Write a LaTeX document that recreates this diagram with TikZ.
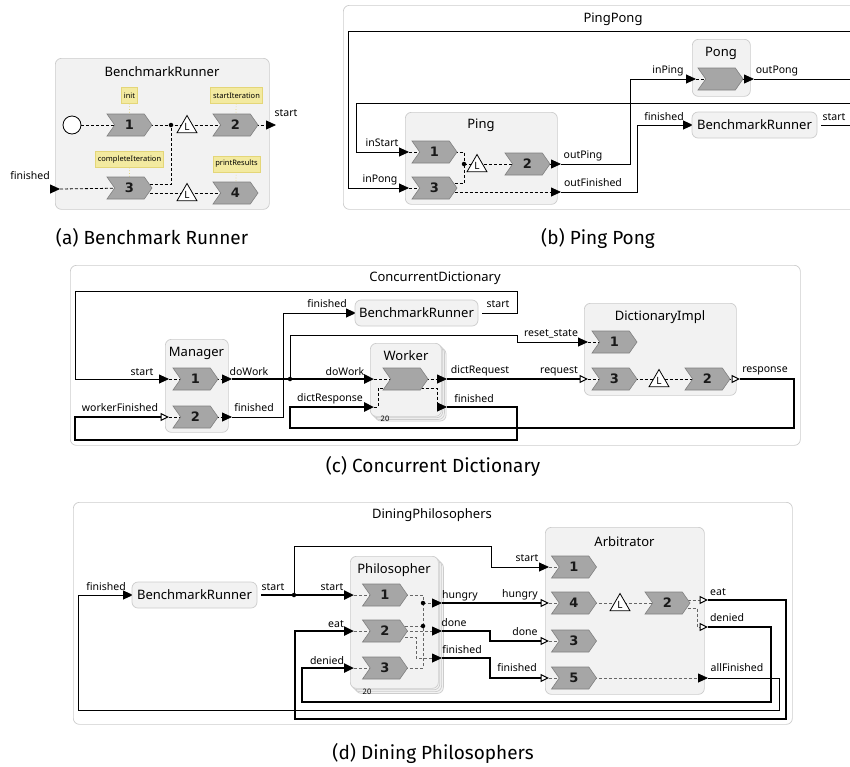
\documentclass[tikz,border=0pt]{standalone}
\usepackage{fontspec}
\setmainfont{Noto Sans}
\newfontfamily\capfont{Fira Sans}
\newfontfamily\numfont{DejaVu Sans}
\usetikzlibrary{shapes.symbols,shapes.geometric,arrows.meta}

\pgfdeclarelayer{bg}
\pgfdeclarelayer{wires}
\pgfsetlayers{bg,wires,main}

\definecolor{noteFill}{RGB}{243,234,160}
\definecolor{noteLine}{RGB}{228,214,120}

\tikzset{
  Tri/.tip={Triangle[length=10pt,width=9pt,color=black]},
  OTri/.tip={Triangle[open,length=8.5pt,width=8pt,color=black,fill=white,line width=1pt]},
  panel/.style={draw=black!20, fill=white, rounded corners=6pt, line width=0.7pt, anchor=north west},
  actor/.style={draw=black!20, fill=black!5, rounded corners=6pt, line width=0.7pt},
  head/.style={font=\fontsize{13}{14}\selectfont, inner sep=0pt},
  act/.style={signal, signal to=east, signal from=west, signal pointer angle=110,
    draw=black!50, fill=black!35, line width=0.6pt, minimum width=45pt, text=black!90,
    minimum height=22pt, inner sep=0pt, font=\numfont\bfseries\fontsize{13}{13}\selectfont},
  lock/.style={regular polygon, regular polygon sides=3, draw, fill=white,
    line width=0.8pt, minimum size=23pt, inner sep=0pt, font=\fontsize{10}{10}\selectfont},
  junc/.style={circle, fill, inner sep=0pt, minimum size=4.5pt},
  note/.style={draw=noteLine, fill=noteFill, font=\fontsize{7.5}{7.5}\selectfont,
    inner sep=2.5pt, minimum height=16pt},
  tether/.style={noteLine, line width=0.7pt, dotted},
  lbl/.style={font=\fontsize{10.5}{10.5}\selectfont, inner sep=0pt},
  tiny/.style={font=\fontsize{7.5}{7.5}\selectfont, inner sep=0pt},
  wire/.style={line width=0.9pt},
  bus/.style={line width=2.4pt},
  flow/.style={line width=0.8pt, dash pattern=on 3pt off 2pt},
  gflow/.style={flow, black!60},
  capt/.style={font=\capfont\fontsize{19}{19}\selectfont, inner sep=0pt},
}

\begin{document}
\begin{tikzpicture}[x=1pt, y=-1pt]
\clip (0,0) rectangle (850,766);

% containers
\begin{pgfonlayer}{bg}
\node[actor, anchor=north west, minimum width=214pt, minimum height=151pt] (brA) at (55,58) {};
\node[panel, minimum width=530pt, minimum height=204pt] (ppB) at (343,5) {};
\node[actor, anchor=north west, minimum width=152pt, minimum height=92pt] (ping) at (405,112) {};
\node[actor, anchor=north west, minimum width=58pt, minimum height=57pt] (pong) at (692,39) {};
\node[panel, minimum width=730pt, minimum height=180pt] (cdC) at (70,265) {};
\node[actor, anchor=north west, minimum width=63pt, minimum height=93pt] (manager) at (165,339) {};
\foreach \d in {5.1,3.4,1.7}
  \draw[actor] (370+\d,343+\d) rectangle +(71,73);
\node[actor, anchor=north west, minimum width=71pt, minimum height=73pt] (worker) at (370,343) {};
\node[actor, anchor=north west, minimum width=152pt, minimum height=92pt] (dict) at (584,303) {};
\node[panel, minimum width=719pt, minimum height=222pt] (dpD) at (73,502) {};
\foreach \d in {5.4,3.6,1.8}
  \draw[actor] (350+\d,556+\d) rectangle +(88,132);
\node[actor, anchor=north west, minimum width=88pt, minimum height=132pt] (philo) at (350,556) {};
\node[actor, anchor=north west, minimum width=159pt, minimum height=167pt] (arbi) at (545,527) {};
\end{pgfonlayer}

% (a) Benchmark Runner
\node[head] (brAhead) at (162,72) {BenchmarkRunner};
\node[circle, draw, fill=white, line width=0.8pt, minimum size=18pt, inner sep=0pt] (initA) at (72,125) {};
\node[act] (a1) at (129.5,125) {1};
\node[act] (a2) at (235.5,125) {2};
\node[act] (a3) at (129.5,188) {3};
\node[act] (a4) at (235.5,193) {4};
\node[note] (nInit) at (129.5,95.5) {init};
\node[note] (nStartIt) at (236.5,95.5) {startIteration};
\node[note] (nComplete) at (129.5,159.5) {completeIteration};
\node[note] (nPrint) at (236.5,164) {printResults};
\node[junc] (jA) at (171,125) {};
\node[lock] (lkA1) at (187,127) {L};
\node[lock] (lkA2) at (187,195) {L};
\coordinate (pStartA) at (276,125);
\coordinate (eFinA) at (50,189);
\coordinate (pFinA) at (60,189);
\node[lbl] (lStartA) at (286,113) {start};
\node[lbl] (lFinA) at (30,176) {finished};

% (b) Ping Pong
\node[head] (ppBhead) at (613,19) {PingPong};
\node[head] (pingHead) at (481,125) {Ping};
\node[head] (pongHead) at (721,53) {Pong};
\node[actor, head, minimum width=125pt, minimum height=26pt] (brB) at (754.5,125) {BenchmarkRunner};
\node[act] (p1) at (434.5,152) {1};
\node[act] (p3) at (434.5,188) {3};
\node[act] (p2) at (527.5,164) {2};
\node[act] (pg) at (720.5,79) {};
\node[junc] (jB) at (464,164) {};
\node[lock] (lkB) at (477,166) {L};
\coordinate (pInStartB) at (409,152);
\coordinate (pInPongB) at (409,188);
\coordinate (pOutPingB) at (561,164);
\coordinate (pOutFinB) at (561,192);
\coordinate (pInPingB) at (696,79);
\coordinate (pOutPongB) at (754,79);
\coordinate (pFinB) at (693,125);
\coordinate (pStartB) at (821,125);
\node[lbl] (lInStart) at (382,143) {inStart};
\node[lbl] (lInPong) at (380,180) {inPong};
\node[lbl] (lOutPing) at (583,156) {outPing};
\node[lbl] (lOutFin) at (593,183) {outFinished};
\node[lbl] (lInPing) at (668,71) {inPing};
\node[lbl] (lOutPong) at (777,71) {outPong};
\node[lbl] (lFinB) at (664,117) {finished};
\node[lbl] (lStartB) at (834,117) {start};

% (c) Concurrent Dictionary
\node[head] (cdChead) at (435,278) {ConcurrentDictionary};
\node[head] (mgrHead) at (196.5,353) {Manager};
\node[head] (wrkHead) at (406,356) {Worker};
\node[head] (dictHead) at (660,317) {DictionaryImpl};
\node[actor, head, minimum width=123pt, minimum height=26pt] (brC) at (416.5,313) {BenchmarkRunner};
\node[act] (m1) at (195.5,379) {1};
\node[act] (m2) at (195.5,417) {2};
\node[act] (w) at (405.5,379) {};
\node[act] (d1) at (614.5,342) {1};
\node[act] (d3) at (614.5,379) {3};
\node[act] (d2) at (707.5,379) {2};
\node[lock] (lkC) at (659,381) {L};
\node[junc] (jC) at (290,379) {};
\node[tiny] (nWrk) at (385,419) {20};
\coordinate (pMStart) at (169,379);
\coordinate (pMWF) at (169,417);
\coordinate (pMDo) at (232,379);
\coordinate (pMFin) at (232,417);
\coordinate (pBRfinC) at (356,313);
\coordinate (pBRstartC) at (482,313);
\coordinate (pWDo) at (374,379);
\coordinate (pWResp) at (374,407);
\coordinate (pWReq) at (447,379);
\coordinate (pWFin) at (447,407);
\coordinate (pDReset) at (588,342);
\coordinate (pDReq) at (588,379);
\coordinate (pDResp) at (740,379);
\node[lbl] (lMStart) at (142,372) {start};
\node[lbl] (lMDo) at (249,372) {doWork};
\node[lbl] (lMWF) at (120,408) {workerFinished};
\node[lbl] (lMFin) at (254,408) {finished};
\node[lbl] (lBRfinC) at (327,304) {finished};
\node[lbl] (lBRstartC) at (498,304) {start};
\node[lbl] (lWDo) at (345,372) {doWork};
\node[lbl] (lWResp) at (330,399) {dictResponse};
\node[lbl] (lWReq) at (480,371) {dictRequest};
\node[lbl] (lWFin) at (474,399) {finished};
\node[lbl] (lDReset) at (551,334) {reset\_state};
\node[lbl] (lDReq) at (559,371) {request};
\node[lbl] (lDResp) at (765,371) {response};

% (d) Dining Philosophers
\node[head] (dpDhead) at (432,515) {DiningPhilosophers};
\node[head] (phHead) at (394,570) {Philosopher};
\node[head] (arHead) at (624.5,542) {Arbitrator};
\node[actor, head, minimum width=125pt, minimum height=26pt] (brD) at (194.5,595) {BenchmarkRunner};
\node[act] (ph1) at (385,595) {1};
\node[act] (ph2) at (385,631) {2};
\node[act] (ph3) at (385,668) {3};
\node[act] (ar1) at (574,567) {1};
\node[act] (ar4) at (574,603) {4};
\node[act] (ar3) at (574,641) {3};
\node[act] (ar5) at (574,678) {5};
\node[act] (ar2) at (667.5,603) {2};
\node[lock] (lkD) at (620,605) {L};
\node[junc] (jD1) at (423,603) {};
\node[junc] (jD2) at (423,626) {};
\node[junc] (jD3) at (294,595) {};
\node[tiny] (nPhil) at (367,692) {20};
\coordinate (pBRfinD) at (133,595);
\coordinate (pBRstartD) at (261,595);
\coordinate (pPhStart) at (354,595);
\coordinate (pPhEat) at (354,631);
\coordinate (pPhDen) at (354,668);
\coordinate (pPhHun) at (442,603);
\coordinate (pPhDone) at (442,631);
\coordinate (pPhFin) at (442,658);
\coordinate (pArStart) at (549,567);
\coordinate (pArHun) at (549,603);
\coordinate (pArDone) at (549,641);
\coordinate (pArFin) at (549,678);
\coordinate (pArEat) at (708,600);
\coordinate (pArDen) at (708,627);
\coordinate (pArAll) at (708,678);
\node[lbl] (lBRfinD) at (106,587) {finished};
\node[lbl] (lBRstartD) at (273,587) {start};
\node[lbl] (lPhStart) at (332,587) {start};
\node[lbl] (lPhEat) at (336,624) {eat};
\node[lbl] (lPhDen) at (327,661) {denied};
\node[lbl] (lPhHun) at (460,596) {hungry};
\node[lbl] (lPhDone) at (454,623) {done};
\node[lbl] (lPhFin) at (462,650) {finished};
\node[lbl] (lArStart) at (527,558) {start};
\node[lbl] (lArHun) at (520,595) {hungry};
\node[lbl] (lArDone) at (525,632) {done};
\node[lbl] (lArFin) at (517,668) {finished};
\node[lbl] (lArEat) at (718,592) {eat};
\node[lbl] (lArDen) at (727,618) {denied};
\node[lbl] (lArAll) at (737,668) {allFinished};

% captions
\node[capt] (capA) at (152,238) {(a) Benchmark Runner};
\node[capt] (capB) at (598,238) {(b) Ping Pong};
\node[capt] (capC) at (433,466) {(c) Concurrent Dictionary};
\node[capt] (capD) at (433,753) {(d) Dining Philosophers};

\begin{pgfonlayer}{wires}
% (a)
\draw[tether] (nInit) -- (a1);
\draw[tether] (nStartIt) -- (a2);
\draw[tether] (nComplete) -- (a3);
\draw[tether] (nPrint) -- (a4);
\draw[flow] (initA) -- (a1.center);
\draw[flow] (a1.center) -- (jA.center) -- (a2.center);
\draw[flow,-{Tri}] (a2.center) -- (pStartA);
\draw[flow] ([yshift=4pt]a3.center) -| (jA.center);
\draw[flow] ([yshift=-5pt]a3.center) -- (a4.center);
\draw[wire,-{Tri}] (eFinA) -- (pFinA);
\draw[flow] (pFinA) -- (a3.center);
% (b)
\draw[wire,-{Tri}] (pOutPongB) -- (866,79) |- (348,31) |- (pInPongB);
\draw[wire,-{Tri}] (pStartB) -- (858,125) |- (356,103) |- (pInStartB);
\draw[wire,-{Tri}] (pOutPingB) -| (630,79) -- (pInPingB);
\draw[wire,-{Tri}] (pOutFinB) -| (637,125) -- (pFinB);
\draw[flow] (pInStartB) -- (p1.center);
\draw[flow] (pInPongB) -- (p3.center);
\draw[flow] (p1.center) -| (jB.center);
\draw[flow] ([yshift=5pt]p3.center) -| (jB.center);
\draw[flow] (jB.center) -- (p2.center);
\draw[flow,-{Tri}] (p2.center) -- (pOutPingB);
\draw[flow,-{Tri}] ([yshift=-4pt]p3.center) -- (pOutFinB);
\draw[flow] (pInPingB) -- (pg.center);
\draw[flow,-{Tri}] (pg.center) -- (pOutPongB);
% (c)
\draw[wire,-{Tri}] (pBRstartC) -- (517,313) |- (75,291) |- (pMStart);
\draw[wire,-{Tri}] (pMFin) -| (283,313) -- (pBRfinC);
\draw[bus,-{Tri}] (pMDo) -- (pWDo);
\draw[wire,-{Tri}] (jC.center) |- (517,335) |- (pDReset);
\draw[bus,-{OTri}] (pWReq) -- (pDReq);
\draw[bus,-{Tri}] (pDResp) -- (794,379) |- (290,428) |- (pWResp);
\draw[bus,-{OTri}] (pWFin) -- (517,407) |- (75,440) |- (pMWF);
\draw[flow] (pMStart) -- (m1.center);
\draw[flow] (pMWF) -- (m2.center);
\draw[flow,-{Tri}] (m1.center) -- (pMDo);
\draw[flow,-{Tri}] (m2.center) -- (pMFin);
\draw[flow] (pWDo) -- (w.center);
\draw[flow,-{Tri}] (w.center) -- (pWReq);
\draw[flow] (pWResp) -| (378,388) -- ([yshift=-9pt]w.center);
\draw[flow,-{Tri}] ([yshift=-9pt]w.center) -| (437,407) -- (pWFin);
\draw[flow] (pDReset) -- (d1.center);
\draw[flow] (pDReq) -- (d3.center);
\draw[flow] (d3.center) -- (d2.center);
\draw[flow,-{OTri}] (d2.center) -- (pDResp);
% (d)
\draw[bus,-{Tri}] (pBRstartD) -- (pPhStart);
\draw[wire,-{Tri}] (jD3.center) |- (491,546) |- (pArStart);
\draw[bus,-{OTri}] (pPhHun) -- (pArHun);
\draw[bus,-{OTri}] (pPhDone) -| (490,641) -- (pArDone);
\draw[bus,-{OTri}] (pPhFin) -| (490,678) -- (pArFin);
\draw[bus,-{Tri}] (pArEat) -- (786,600) |- (295,719) |- (pPhEat);
\draw[bus,-{Tri}] (pArDen) -- (771,627) |- (302,702) |- (pPhDen);
\draw[wire,-{Tri}] (pArAll) -- (779,678) |- (78,710) |- (pBRfinD);
\draw[gflow] (pPhStart) -- (ph1.center);
\draw[gflow] (pPhEat) -- (ph2.center);
\draw[gflow] (pPhDen) -- (ph3.center);
\draw[gflow] (ph1.center) -| (jD1.center);
\draw[gflow,-{Tri}] (jD1.center) -- (pPhHun);
\draw[gflow] ([yshift=5pt]ph2.center) -- (jD2.center);
\draw[gflow,-{Tri}] (ph2.center) -- (pPhDone);
\draw[gflow,-{Tri}] ([yshift=-6pt]ph2.center) -| (416,658) -- (pPhFin);
\draw[gflow] (ph3.center) -| (jD1.center);
\draw[gflow] (pArStart) -- (ar1.center);
\draw[gflow] (pArHun) -- (ar4.center);
\draw[gflow] (pArDone) -- (ar3.center);
\draw[gflow] (pArFin) -- (ar5.center);
\draw[gflow] (ar4.center) -- (ar2.center);
\draw[gflow,-{OTri}] ([yshift=3pt]ar2.center) -- (pArEat);
\draw[gflow,-{OTri}] ([yshift=-5pt]ar2.center) -| (697,627) -- (pArDen);
\draw[gflow,-{Tri}] (ar5.center) -- (pArAll);
\end{pgfonlayer}
\end{tikzpicture}
\end{document}
